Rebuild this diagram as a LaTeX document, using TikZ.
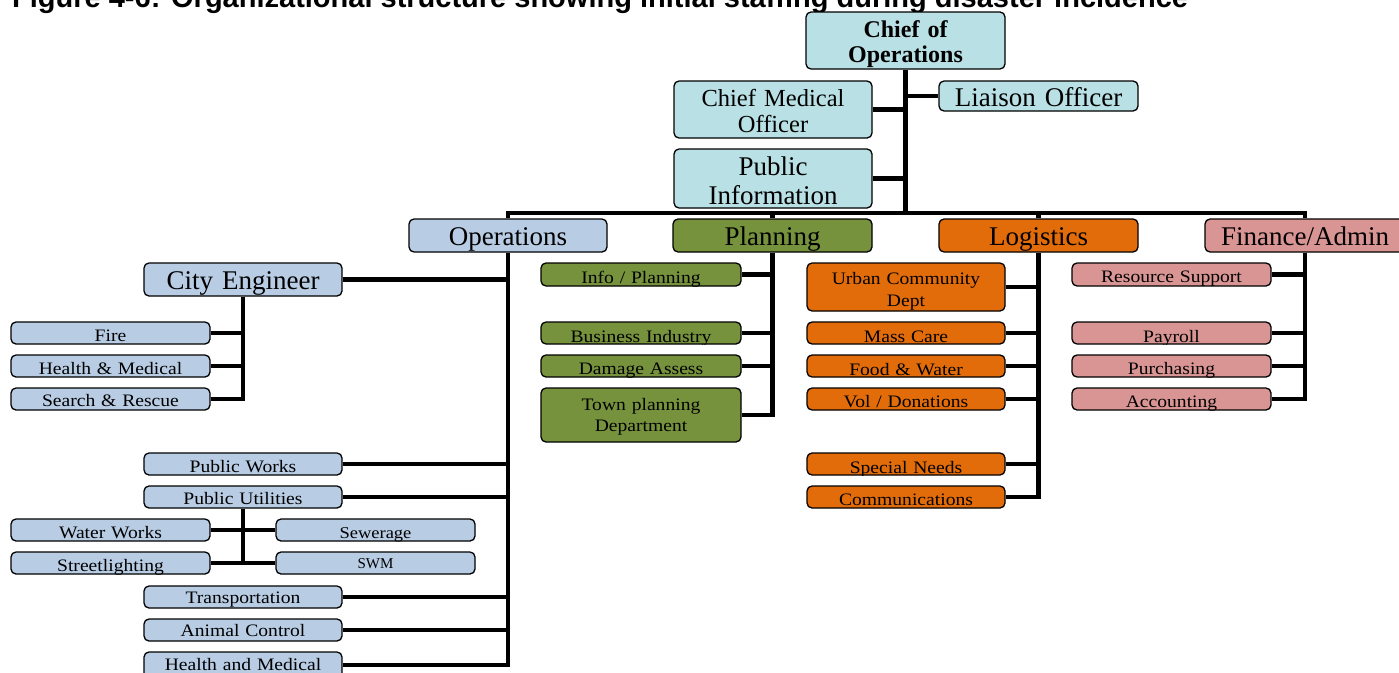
\documentclass[tikz,border=0pt]{standalone}
\usepackage{fontspec}
\setmainfont{Liberation Serif}
\newfontfamily\stretchserif[FakeStretch=1.12]{Liberation Serif}
\newfontfamily\titlefam{Liberation Sans}
\usetikzlibrary{fit}
\definecolor{cyanF}{RGB}{185,224,228}
\definecolor{blueF}{HTML}{B8CCE4}
\definecolor{greenF}{HTML}{76923C}
\definecolor{orangeF}{HTML}{E36C0A}
\definecolor{pinkF}{HTML}{D99594}
\newcommand\headf{\fontsize{27}{29}\selectfont}
\newcommand\smf{\stretchserif\fontsize{17.5}{21}\selectfont}
\newcommand\obox[9]{%
  \node[orgbox,#6,fit={(#2,#3)(#4,#5)},
    path picture={\node[anchor=base,align=center,inner sep=0pt,font=#7,text=black]
      at ([yshift={(#3-#8)*1pt}]path picture bounding box.north) {#9};}] (#1) {};}
\tikzset{
  orgbox/.style={draw=black,line width=1.3pt,rounded corners=5pt,inner sep=0pt},
  cy/.style={fill=cyanF}, bl/.style={fill=blueF}, gr/.style={fill=greenF},
  og/.style={fill=orangeF}, pk/.style={fill=pinkF},
  conn/.style={draw=black,line width=4.6pt}
}
\begin{document}
\begin{tikzpicture}[x=1pt,y=-1pt]
\useasboundingbox (0,0) rectangle (1399,672);
\clip (0,0) rectangle (1399,672);
\fill[white] (0,0) rectangle (1399,672);
\node[anchor=base west,inner sep=0pt,font=\titlefam\bfseries\fontsize{29}{31}\selectfont] (title) at (12,7.5)
  {Figure 4-6: Organizational structure showing initial staffing during disaster incidence};
% top
\obox{Chief}{806}{12}{1005}{69}{cy}{\bfseries\fontsize{24}{25.6}\selectfont}{37}{Chief of\\Operations}
\obox{CMO}{674}{81}{872}{138}{cy}{\fontsize{24.5}{26}\selectfont}{106}{Chief Medical\\Officer}
\obox{Liaison}{939}{81}{1138}{111}{cy}{\headf}{106}{Liaison Officer}
\obox{PI}{674}{149}{872}{208}{cy}{\fontsize{27}{29}\selectfont}{175}{Public\\Information}
% heads
\obox{Ops}{409}{219}{607}{252}{bl}{\headf}{245}{Operations}
\obox{Plan}{673}{219}{872}{252}{gr}{\headf}{245}{Planning}
\obox{Log}{939}{219}{1138}{252}{og}{\headf}{245}{Logistics}
\obox{Fin}{1205}{219}{1405}{252}{pk}{\headf}{245}{Finance/Admin}
% operations
\obox{CE}{144}{263}{342}{296}{bl}{\headf}{289.3}{City Engineer}
\obox{Fire}{11}{322}{210}{344}{bl}{\smf}{341}{Fire}
\obox{HM}{11}{355}{210}{377}{bl}{\smf}{374.3}{Health \& Medical}
\obox{SR}{11}{388}{210}{410}{bl}{\smf}{406.7}{Search \& Rescue}
\obox{PW}{144}{453}{342}{475}{bl}{\smf}{472}{Public Works}
\obox{PU}{144}{486}{342}{508}{bl}{\smf}{504.3}{Public Utilities}
\obox{WW}{11}{519}{210}{541}{bl}{\smf}{538.7}{Water Works}
\obox{Sew}{276}{519}{475}{541}{bl}{\stretchserif\fontsize{16.5}{20}\selectfont}{538.5}{Sewerage}
\obox{SL}{11}{552}{210}{574}{bl}{\smf}{571.7}{Streetlighting}
\obox{SWM}{276}{552}{475}{574}{bl}{\fontsize{15}{18}\selectfont}{568.3}{SWM}
\obox{Trans}{144}{586}{342}{608}{bl}{\smf}{603.3}{Transportation}
\obox{AC}{144}{619}{342}{641}{bl}{\smf}{636.7}{Animal Control}
\obox{HMtwo}{144}{652}{342}{678}{bl}{\smf}{670}{Health and Medical}
% planning
\obox{Info}{541}{263}{741}{286}{gr}{\smf}{283.3}{Info / Planning}
\obox{BI}{541}{322}{741}{344}{gr}{\smf}{342.7}{Business Industry}
\obox{DA}{541}{355}{741}{377}{gr}{\smf}{374.7}{Damage Assess}
\obox{Town}{541}{388}{741}{442}{gr}{\stretchserif\fontsize{17.5}{21}\selectfont}{410}{Town planning\\Department}
% logistics
\obox{Urban}{807}{263}{1005}{311}{og}{\stretchserif\fontsize{17.5}{21.7}\selectfont}{284.3}{Urban Community\\Dept}
\obox{Mass}{807}{322}{1005}{344}{og}{\smf}{342.7}{Mass Care}
\obox{Food}{807}{355}{1005}{377}{og}{\smf}{375}{Food \& Water}
\obox{Vol}{807}{388}{1005}{410}{og}{\smf}{407.3}{Vol / Donations}
\obox{SN}{807}{453}{1005}{475}{og}{\smf}{473.3}{Special Needs}
\obox{Comm}{807}{486}{1005}{508}{og}{\smf}{505}{Communications}
% finance
\obox{RS}{1072}{263}{1271}{286}{pk}{\smf}{282.7}{Resource Support}
\obox{Pay}{1072}{322}{1271}{344}{pk}{\smf}{342.3}{Payroll}
\obox{Pur}{1072}{355}{1271}{377}{pk}{\smf}{374.7}{Purchasing}
\obox{Acc}{1072}{388}{1271}{410}{pk}{\smf}{407.3}{Accounting}
% connectors
\coordinate (bus) at (906,213);
\draw[conn] (Chief.south) -- (Chief.south |- bus);
\draw[conn] (Liaison.west) -- (Liaison.west -| Chief.south);
\draw[conn] (CMO.east) -- (CMO.east -| Chief.south);
\draw[conn] (PI.east) -- (PI.east -| Chief.south);
\draw[conn] (Ops.north) |- (bus) -| (Fin.north);
\draw[conn] (Plan.north) -- (Plan.north |- bus);
\draw[conn] (Log.north) -- (Log.north |- bus);
% operations tree
\draw[conn] (Ops.south) |- (HMtwo.east);
\foreach \n in {CE,PW,PU,Trans,AC} \draw[conn] (\n.east) -- (\n.east -| Ops.south);
\draw[conn] (CE.south) |- (SR.east);
\foreach \n in {Fire,HM} \draw[conn] (\n.east) -- (\n.east -| CE.south);
\draw[conn] (PU.south) -- (PU.south |- SL.east);
\draw[conn] (WW.east) -- (Sew.west);
\draw[conn] (SL.east) -- (SWM.west);
% planning tree
\draw[conn] (Plan.south) |- (Town.east);
\foreach \n in {Info,BI,DA} \draw[conn] (\n.east) -- (\n.east -| Plan.south);
% logistics tree
\draw[conn] (Log.south) |- (Comm.east);
\foreach \n in {Urban,Mass,Food,Vol,SN} \draw[conn] (\n.east) -- (\n.east -| Log.south);
% finance tree
\draw[conn] (Fin.south) |- (Acc.east);
\foreach \n in {RS,Pay,Pur} \draw[conn] (\n.east) -- (\n.east -| Fin.south);
\end{tikzpicture}
\end{document}
